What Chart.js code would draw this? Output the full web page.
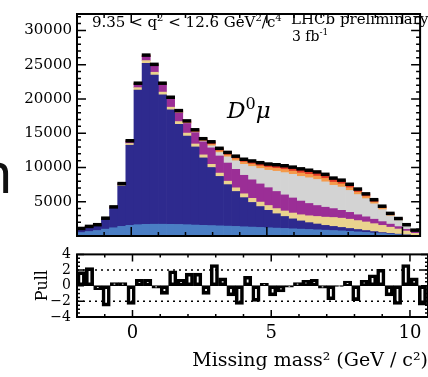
<!DOCTYPE html>
<html>
<head>
<meta charset="utf-8">
<script src="https://cdn.jsdelivr.net/npm/chart.js@4.4.1/dist/chart.umd.min.js"></script>
<style>
html, body { margin: 0; padding: 0; background: #fff; overflow: hidden; }
#wrap { position: relative; width: 428px; height: 377px; }
canvas { position: absolute; left: 0; }
.t { position: absolute; font-family: "DejaVu Serif", serif; color: #000; white-space: nowrap; line-height: 1; }
</style>
</head>
<body>
<div id="wrap">
  <canvas id="main" width="428" height="250" style="top:0"></canvas>
  <canvas id="pull" width="428" height="137" style="top:240px"></canvas>
  <div class="t" style="left:-22px;top:143px;font-family:'Noto Sans';font-size:56px;color:#111">n</div>
  <div class="t" style="left:92px;top:13px;font-size:15px">9.35 &lt; q<sup style="font-size:10px">2</sup> &lt; 12.6 GeV<sup style="font-size:10px">2</sup>/c<sup style="font-size:10px">4</sup></div>
  <div class="t" style="left:291px;top:12px;font-size:15px">LHCb preliminary</div>
  <div class="t" style="left:292px;top:28px;font-size:14px">3 fb<sup style="font-size:9px">-1</sup></div>
  <div class="t" style="left:227px;top:99px;font-size:23px;font-style:italic">D<span style="font-size:16px;position:relative;top:-9px;font-style:normal">0</span>μ</div>
</div>
<script>
// binning of the missing mass^2 histogram
var X_MIN = -2, X_MAX = 10.65, BIN_W = 0.3;

// tick labels
var mainYTicks = [5000, 10000, 15000, 20000, 25000, 30000];
var pullYTicks = [-4, -2, 0, 2, 4];
var xTicks = [0, 5, 10];

// data points (candidates per bin)
var dataCounts = [1100,1400,1650,2600,4250,7650,13900,22300,26400,25050,22300,20250,18300,16800,15500,14200,13750,12800,12200,11650,11200,10950,10700,10500,10400,10250,10050,9800,9600,9350,9000,8450,8150,7550,6850,6150,5300,4350,3300,2550,1650,850];

// fit components, stacked bottom to top
var compLightBlue = [500,650,800,1000,1200,1400,1550,1650,1700,1720,1720,1700,1680,1650,1600,1560,1520,1480,1440,1400,1350,1300,1250,1200,1150,1100,1050,1000,950,900,850,800,750,680,600,520,440,360,280,200,130,70];
var compNavy = [550,680,770,1480,2850,5900,11700,19650,23500,21780,18880,16700,14620,12950,11400,9840,8480,7220,6060,5100,4250,3600,3050,2550,2100,1750,1450,1200,1000,850,700,600,500,420,350,280,210,140,100,70,40,20];
var compYellow = [20,30,40,60,90,150,250,350,400,400,400,400,400,420,430,440,460,480,500,530,560,600,650,700,750,800,850,900,1000,1100,1200,1300,1350,1350,1300,1250,1150,1050,900,750,550,300];
var compPurple = [20,30,30,50,90,170,350,550,650,950,1050,1150,1250,1400,1650,1900,2400,2500,2650,2700,2700,2700,2650,2600,2500,2350,2200,2000,1800,1600,1450,1300,1150,1000,850,750,650,550,450,350,250,150];
var compGray = [0,0,0,0,0,0,0,0,0,0,0,0,0,0,0,50,300,500,900,1250,1600,1950,2250,2550,2950,3250,3450,3600,3750,3800,3700,3400,3400,3200,2950,2650,2250,1750,1200,900,500,220];
var compOrange = [0,0,0,0,0,0,0,0,0,0,0,50,100,130,150,150,200,250,280,300,330,350,380,400,420,450,470,500,500,500,500,450,450,400,350,300,250,200,150,120,80,40];
var compRed = [10,10,10,10,20,30,50,100,150,200,250,250,250,250,270,260,390,370,370,370,410,450,470,500,530,550,580,600,600,600,600,600,550,500,450,400,350,300,220,160,100,50];

// pull per bin
var pullValues = [1.8,2.3,-0.5,-2.6,0.4,0.4,-2.4,0.8,0.8,-0.3,-1.1,1.9,0.8,1.6,1.6,-1.1,2.7,1.0,-1.3,-2.4,1.2,-2.0,0.3,-1.3,-0.8,-0.2,0.4,0.7,0.8,-0.3,-1.8,-0.1,0.6,-1.9,0.7,1.4,2.1,-1.3,-2.4,2.7,1.0,-2.5];

var components = [
  { label: 'comp1', values: compLightBlue, color: '#4a7ec4' },
  { label: 'comp2', values: compNavy, color: '#2e2a8e' },
  { label: 'comp3', values: compYellow, color: '#ead38e' },
  { label: 'comp4', values: compPurple, color: '#9b2e96' },
  { label: 'comp5', values: compGray, color: '#d3d3d3' },
  { label: 'comp6', values: compOrange, color: '#f49a4a' },
  { label: 'comp7', values: compRed, color: '#e23a26' }
];

var SERIF = 'DejaVu Serif';

function toXY(arr) {
  return arr.map(function (v, i) { return { x: X_MIN + BIN_W * (i + 0.5), y: v }; });
}

function fixedTicks(values) {
  return function (scale) {
    scale.ticks = values.map(function (v) { return { value: v }; });
  };
}

function minusLabel(v) {
  return v < 0 ? '\u2212' + (-v) : String(v);
}

// ROOT style frame with inward ticks
var framePlugin = {
  id: 'frame',
  afterDraw: function (chart, args, o) {
    var a = chart.chartArea, ctx = chart.ctx, xs = chart.scales.x, ys = chart.scales.y;
    var i, v, len, px;
    ctx.save();
    ctx.strokeStyle = '#000';
    ctx.lineWidth = 1.5;
    ctx.beginPath();
    for (i = Math.ceil(xs.min / o.xMinor); i * o.xMinor <= xs.max; i++) {
      v = i * o.xMinor;
      len = (Math.abs(v % o.xMajor) < 1e-6) ? o.majorLen : o.minorLen;
      px = xs.getPixelForValue(v);
      ctx.moveTo(px, a.bottom); ctx.lineTo(px, a.bottom - len);
      ctx.moveTo(px, a.top); ctx.lineTo(px, a.top + len);
    }
    for (i = Math.ceil(ys.min / o.yMinor); i * o.yMinor <= ys.max; i++) {
      v = i * o.yMinor;
      len = (Math.abs(v % o.yMajor) < 1e-6) ? o.majorLen : o.minorLen;
      px = ys.getPixelForValue(v);
      ctx.moveTo(a.left, px); ctx.lineTo(a.left + len, px);
      ctx.moveTo(a.right, px); ctx.lineTo(a.right - len, px);
    }
    ctx.stroke();
    if (o.dotted) {
      ctx.setLineDash([2, 4]);
      ctx.lineWidth = 1.5;
      o.dotted.forEach(function (d) {
        var py = ys.getPixelForValue(d);
        ctx.beginPath(); ctx.moveTo(a.left, py); ctx.lineTo(a.right, py); ctx.stroke();
      });
      ctx.setLineDash([]);
    }
    ctx.lineWidth = 2;
    ctx.strokeRect(a.left, a.top, a.right - a.left, a.bottom - a.top);
    ctx.restore();
  }
};

var barDatasets = components.map(function (c) {
  return {
    label: c.label,
    data: toXY(c.values),
    backgroundColor: c.color,
    borderWidth: 0,
    barPercentage: 1,
    categoryPercentage: 1,
    order: 1
  };
});

new Chart(document.getElementById('main'), {
  type: 'bar',
  data: {
    datasets: [{
      type: 'scatter',
      label: 'Data',
      data: toXY(dataCounts),
      pointStyle: 'line',
      radius: 4.4,
      borderWidth: 3.5,
      borderColor: '#000',
      backgroundColor: '#000',
      order: 0
    }].concat(barDatasets)
  },
  options: {
    responsive: false,
    animation: false,
    devicePixelRatio: 1,
    layout: { padding: { top: 9, right: 0, bottom: 3, left: 0 } },
    plugins: {
      legend: { display: false },
      tooltip: { enabled: false },
      frame: { xMinor: 1, xMajor: 5, yMinor: 1000, yMajor: 5000, majorLen: 9, minorLen: 4 }
    },
    scales: {
      x: { type: 'linear', min: X_MIN, max: X_MAX, stacked: true, display: false, offset: false },
      y: {
        type: 'linear', min: 0, max: 32400, stacked: true,
        grid: { display: false, drawTicks: false },
        border: { display: false },
        afterBuildTicks: fixedTicks(mainYTicks),
        ticks: {
          autoSkip: false,
          color: '#000',
          padding: 5,
          font: { family: SERIF, size: 15 },
          callback: function (v) { return String(v); }
        },
        afterFit: function (s) { s.width = 77; }
      }
    }
  },
  plugins: [framePlugin]
});

new Chart(document.getElementById('pull'), {
  type: 'bar',
  data: {
    datasets: [{
      label: 'Pull',
      data: toXY(pullValues),
      backgroundColor: '#fff',
      borderColor: '#000',
      borderWidth: 3.6,
      borderSkipped: false,
      barPercentage: 1,
      categoryPercentage: 1
    }]
  },
  options: {
    responsive: false,
    animation: false,
    devicePixelRatio: 1,
    layout: { padding: { top: 7, right: 0, bottom: 0, left: 0 } },
    plugins: {
      legend: { display: false },
      tooltip: { enabled: false },
      frame: { xMinor: 1, xMajor: 5, yMinor: 0.5, yMajor: 2, majorLen: 7, minorLen: 3, dotted: [2, -2] }
    },
    scales: {
      x: {
        type: 'linear', min: X_MIN, max: X_MAX, offset: false,
        grid: { display: false, drawTicks: false },
        border: { display: false },
        afterBuildTicks: fixedTicks(xTicks),
        ticks: {
          autoSkip: false, maxRotation: 0, color: '#000', padding: 6,
          font: { family: SERIF, size: 18 },
          callback: function (v) { return String(v); }
        },
        title: {
          display: true, text: 'Missing mass² (GeV / c²)', align: 'end', color: '#000',
          font: { family: SERIF, size: 19 }, padding: { top: 0, bottom: 5 }
        },
        afterFit: function (s) { s.height = 60; }
      },
      y: {
        type: 'linear', min: -4, max: 4,
        grid: { display: false, drawTicks: false },
        border: { display: false },
        afterBuildTicks: fixedTicks(pullYTicks),
        ticks: {
          autoSkip: false, color: '#000', padding: 6,
          font: { family: SERIF, size: 14 },
          callback: minusLabel
        },
        title: {
          display: true, text: 'Pull', color: '#000',
          font: { family: SERIF, size: 16 }, padding: { top: 33, bottom: 0 }
        },
        afterFit: function (s) { s.width = 77; }
      }
    }
  },
  plugins: [framePlugin]
});
</script>
</body>
</html>
